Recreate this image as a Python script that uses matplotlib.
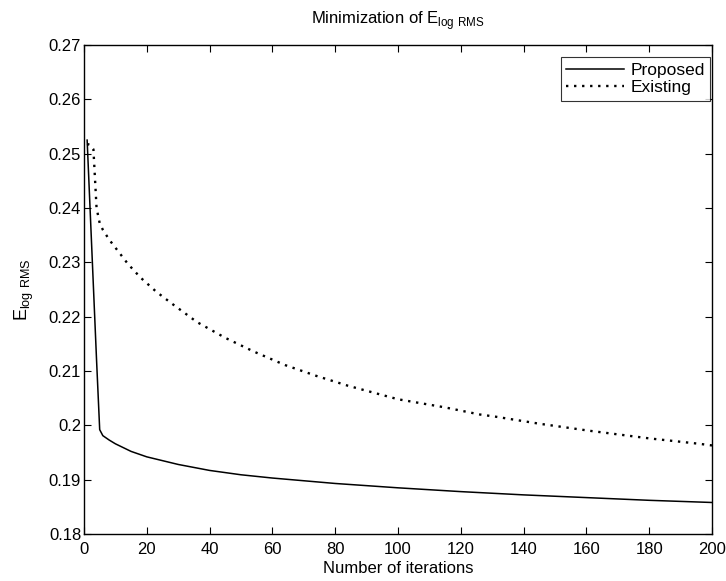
import matplotlib
matplotlib.use("Agg")
import matplotlib.pyplot as plt

plt.rcParams.update({
    "font.family": ["Liberation Sans", "DejaVu Sans"],
    "font.size": 12,
    "mathtext.fontset": "custom",
    "mathtext.rm": "Liberation Sans",
    "xtick.direction": "in",
    "ytick.direction": "in",
})

# ── Data ────────────────────────────────────────────────────────────────────
proposed_iter = [1, 2, 3, 4, 5, 6, 8, 10, 15, 20, 30, 40, 50, 60, 80, 100,
                 120, 140, 160, 180, 200]
proposed_err = [0.2525, 0.2390, 0.2255, 0.2120, 0.1992, 0.1981, 0.1973,
                0.1966, 0.1952, 0.1942, 0.1928, 0.1917, 0.1909, 0.1903,
                0.1893, 0.1885, 0.1878, 0.1872, 0.1867, 0.1862, 0.1858]

existing_iter = [1, 2, 3, 4, 5, 6, 8, 10, 14, 18, 23, 28, 36, 45, 54, 64,
                 74, 84, 100, 115, 126, 131, 145, 161, 180, 196, 200]
existing_err = [0.2518, 0.2516, 0.2508, 0.2400, 0.2372, 0.2360, 0.2342,
                0.2327, 0.2297, 0.2272, 0.2246, 0.2224, 0.2190, 0.2161,
                0.2136, 0.2111, 0.2091, 0.2073, 0.2048, 0.2033, 0.2020,
                0.2016, 0.2003, 0.1990, 0.1976, 0.1966, 0.1963]

x_ticks = list(range(0, 201, 20))
y_ticks = [0.18, 0.19, 0.20, 0.21, 0.22, 0.23, 0.24, 0.25, 0.26, 0.27]
y_tick_labels = ["0.18", "0.19", "0.2", "0.21", "0.22", "0.23", "0.24",
                 "0.25", "0.26", "0.27"]

# ── Figure ──────────────────────────────────────────────────────────────────
fig = plt.figure(figsize=(7.26, 5.81), dpi=100)
ax = fig.add_axes([0.1157, 0.0809, 0.8650, 0.8416])

ax.plot(proposed_iter, proposed_err, color="black", linewidth=1.1,
        linestyle="-", label="Proposed")
ax.plot(existing_iter, existing_err, color="black", linewidth=1.7,
        linestyle=(0, (1, 2.4)), label="Existing")

ax.set_xlim(0, 200)
ax.set_ylim(0.18, 0.27)
ax.set_xticks(x_ticks)
ax.set_yticks(y_ticks)
ax.set_yticklabels(y_tick_labels)
ax.tick_params(axis="y", pad=2)
ax.tick_params(axis="x", pad=6)
ax.tick_params(top=True, right=True, length=5, width=0.8, labelsize=12)
for sp in ax.spines.values():
    sp.set_linewidth(1.0)

ax.set_xlabel("Number of iterations", fontsize=12, labelpad=3)
ax.set_ylabel(r"E$_{\mathregular{log\ RMS}}$", fontsize=13, labelpad=9)
ax.set_title(r"Minimization of E$_{\mathregular{log\ RMS}}$", fontsize=12,
             pad=15)

leg = ax.legend(loc="upper right", bbox_to_anchor=(0.997, 0.975),
                fontsize=12.5, frameon=True, fancybox=False,
                edgecolor="black", handlelength=3.3, borderpad=0.3,
                labelspacing=0.15, handletextpad=0.4, borderaxespad=0.0)
leg.get_frame().set_linewidth(0.8)

fig.savefig("out.png", dpi=100)
